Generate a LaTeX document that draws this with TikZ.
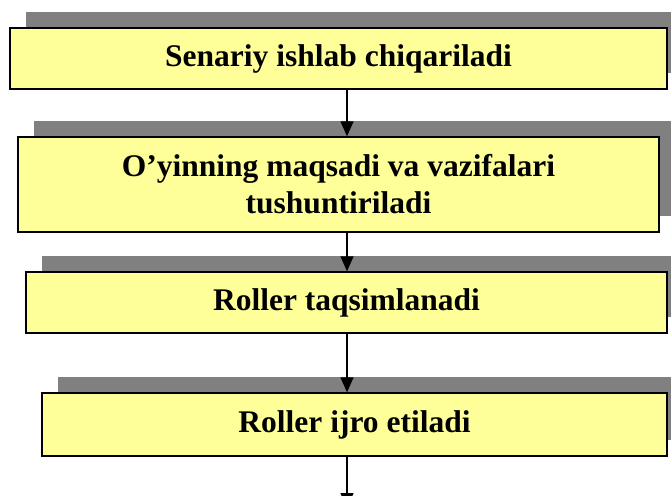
\documentclass[tikz,border=0pt]{standalone}
\usepackage{fontspec}
\setmainfont{Liberation Serif}
\usetikzlibrary{arrows.meta,shadows,calc}
\definecolor{boxfill}{RGB}{255,255,153}
\definecolor{shadowc}{RGB}{128,128,128}
\tikzset{
  stepbox/.style={draw=black, line width=1.5pt, fill=boxfill, inner sep=0pt,
    align=center, font=\fontsize{31.5}{37}\selectfont\bfseries,
    drop shadow={shadow xshift=16pt, shadow yshift=16pt, fill=shadowc, opacity=1}},
  conn/.style={line width=1.4pt, -{Triangle[length=15pt,width=13pt]}}
}
\begin{document}
\begin{tikzpicture}[x=1pt,y=-1pt]
\useasboundingbox (0,0) rectangle (671,495);
\clip (0,0) rectangle (671,495);
\node[stepbox, minimum width=657pt, minimum height=61pt] (b1) at (338.5,58.5) {Senariy ishlab chiqariladi};
\node[stepbox, minimum width=641pt, minimum height=95pt] (b2) at (338.5,184.5) {O’yinning maqsadi va vazifalari\\tushuntiriladi};
\node[stepbox, minimum width=641pt, minimum height=61pt] (b3) at (346.5,302.5) {Roller taqsimlanadi};
\node[stepbox, minimum width=625pt, minimum height=63pt] (b4) at (354.5,424.5) {Roller ijro etiladi};
\coordinate (ax) at (347,0);
\coordinate (endpt) at (347,508);
\draw[conn] (b1.south -| ax) -- (b2.north -| ax);
\draw[conn] (b2.south -| ax) -- (b3.north -| ax);
\draw[conn] (b3.south -| ax) -- (b4.north -| ax);
\draw[conn] (b4.south -| ax) -- (endpt);
\end{tikzpicture}
\end{document}
